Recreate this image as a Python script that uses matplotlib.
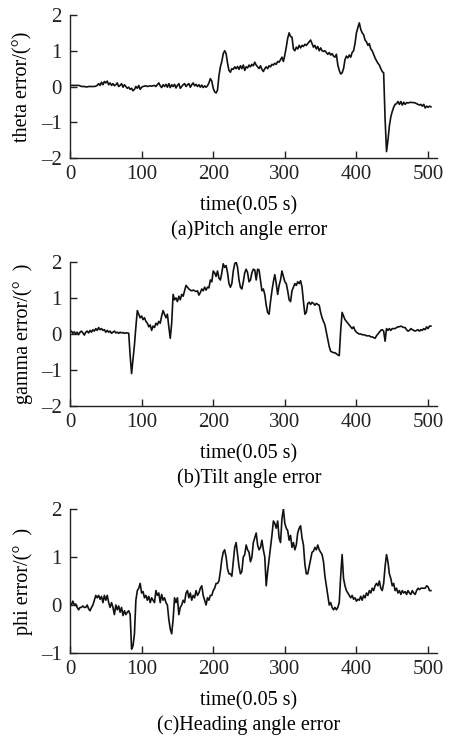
import numpy as np
import matplotlib
matplotlib.use("Agg")
import matplotlib.pyplot as plt

plt.rcParams['font.family'] = ['Liberation Serif', 'DejaVu Serif']
plt.rcParams['axes.unicode_minus'] = False

# -> values, one sample every 2 time steps (0 .. 504)

theta = [
    0.03, 0.03, 0.03, 0.03, 0.03, 0.03, 0.03,
    0.02, 0.0, 0.0, 0.0, -0.01, -0.01, 0.0, 0.0, 0.0, 0.0, 0.0, 0.01,
    0.03, 0.08, 0.03, 0.12, 0.05, 0.14, 0.1, 0.15, 0.05, 0.1,
    0.03, 0.08, 0.02, 0.05, 0.1, 0.0, 0.03, 0.08, -0.02, 0.05,
    0.0, -0.05, -0.02, -0.08, -0.05, -0.12, -0.08, 0.0, -0.05, 0.03,
    -0.08, -0.02,
    0.0, 0.01, 0.02, 0.0, 0.01, 0.02, 0.01, 0.02, 0.03, 0.0,
    0.05, 0.1, 0.02, -0.03, 0.05, 0.0, 0.06, -0.02, 0.08, -0.03,
    0.05, 0.0, 0.06, -0.04, 0.03, 0.08, -0.05, 0.0, 0.05, 0.08,
    0.0, 0.05, 0.08, -0.02, 0.05, 0.1, 0.02, 0.06, 0.0, 0.05,
    -0.02, 0.04, -0.03, 0.02, -0.02, 0.02, 0.1, 0.22, 0.15, -0.05,
    -0.15, -0.18, -0.1, 0.3, 0.55, 0.7, 0.92, 1.0, 0.92, 0.65,
    0.45, 0.4, 0.5, 0.48, 0.55, 0.5, 0.56, 0.48, 0.58, 0.5,
    0.6, 0.45, 0.55, 0.52, 0.6, 0.55, 0.62, 0.58, 0.68, 0.6,
    0.55, 0.5, 0.58, 0.48, 0.42, 0.5, 0.55, 0.5, 0.58, 0.55,
    0.62, 0.6, 0.65, 0.62, 0.7, 0.68, 0.75, 0.82, 0.7, 0.88,
    1.1, 1.35, 1.5, 1.4, 1.38, 1.05, 1.0, 1.1, 1.05, 1.15,
    1.08, 1.15, 1.12, 1.18, 1.15, 1.2, 1.25, 1.3, 1.2, 1.1,
    1.15, 1.05, 1.12, 1.0, 1.08, 1.0, 0.98, 1.0, 0.95, 0.9,
    0.95, 0.88, 0.92, 0.85, 0.82, 0.9, 0.6, 0.45, 0.35, 0.38,
    0.5, 0.75, 0.85, 0.8, 0.88, 0.82, 0.95, 1.0, 1.2, 1.5,
    1.65, 1.78, 1.6, 1.5, 1.45, 1.3, 1.25, 1.15, 1.2, 1.05,
    1.0, 0.9, 0.8, 0.72, 0.65, 0.6, 0.5, 0.42, 0.38, -0.9,
    -1.82, -1.5, -1.1, -0.85, -0.7, -0.58, -0.5, -0.48, -0.42, -0.5,
    -0.42, -0.52, -0.44, -0.5, -0.45, -0.46, -0.45, -0.44, -0.45, -0.45,
    -0.46, -0.48, -0.5, -0.52, -0.5, -0.55, -0.5, -0.6, -0.55, -0.58,
    -0.55, -0.57,
]

gamma = [
    0.05, 0.08, 0.02, 0.06, 0.0, 0.05, -0.02, 0.05, 0.08, 0.03,
    -0.03, 0.05, 0.08, 0.03, 0.1, 0.05, 0.12, 0.08, 0.15, 0.1,
    0.18, 0.12, 0.15, 0.1, 0.12, 0.05, 0.1, 0.05, 0.08, 0.02,
    0.05, 0.08, 0.03, 0.05, 0.02, 0.05, 0.03, 0.04, 0.02, 0.03,
    0.03,
    0.02, -0.6, -1.1, -0.7, -0.3, 0.2, 0.65, 0.55, 0.45, 0.5,
    0.4, 0.45, 0.35, 0.3, 0.2, 0.25, 0.1, 0.22, 0.18, 0.3,
    0.25, 0.35, 0.3, 0.5, 0.65, 0.55, 0.45, 0.55, 0.2, -0.12,
    0.3, 1.1, 0.95, 1.0, 0.9, 1.05, 0.95, 1.1, 1.05, 1.2,
    1.35, 1.3, 1.25, 1.22, 1.2, 1.22, 1.2, 1.18, 1.2, 1.08,
    1.15, 1.25, 1.2, 1.3, 1.22, 1.3, 1.28, 1.5, 1.45, 1.75,
    1.7, 1.6, 1.75, 1.55, 1.5, 1.7, 1.95, 1.85, 1.9, 1.7,
    1.4, 1.3, 1.4, 1.75, 1.95, 2.0, 1.85, 1.5, 1.3, 1.25,
    1.45, 1.7, 1.8, 1.7, 1.45, 1.5, 1.7, 1.8, 1.78, 1.5,
    1.8, 1.78, 1.5, 1.2, 1.25, 1.1, 0.8, 0.6, 0.55, 0.9,
    1.2, 1.45, 1.65, 1.4, 1.1, 1.35, 1.5, 1.75, 1.6, 1.45,
    1.4, 1.2, 0.95, 0.9, 1.2, 1.3, 1.4, 1.35, 1.45, 1.4,
    1.48, 1.3, 0.9, 0.55, 0.6, 0.85, 0.88, 0.82, 0.88, 0.85,
    0.8, 0.85, 0.82, 0.8, 0.6, 0.45, 0.35, 0.25, 0.05, -0.15,
    -0.35, -0.48, -0.5, -0.52, -0.52, -0.55, -0.58, -0.6, 0.1, 0.6,
    0.5, 0.4, 0.35, 0.3, 0.25, 0.2, 0.15, 0.2, 0.1, 0.05,
    0.02, 0.0, 0.0, -0.02, -0.02, -0.03, -0.05, -0.05, -0.05, -0.08,
    -0.08, -0.1, -0.12, -0.05, 0.0, 0.05, 0.1, 0.12, 0.08, -0.2,
    0.15, 0.1, 0.15, 0.1, 0.15, 0.15, 0.15, 0.18, 0.2, 0.2,
    0.22, 0.2, 0.18, 0.18, 0.12, 0.08, 0.1, 0.15, 0.12, 0.1,
    0.08, 0.1, 0.12, 0.08, 0.12, 0.1, 0.15, 0.12, 0.2, 0.15,
    0.22, 0.22,
]

phi = [
    0.05, 0.0, 0.08, 0.0, 0.02, -0.05, -0.1, -0.05, -0.05, -0.02,
    -0.05, -0.05, 0.0, -0.08, -0.12, -0.05, 0.0, 0.1, 0.2, 0.15,
    0.2, 0.12, 0.18, 0.05, 0.2, 0.1, 0.2, 0.05, -0.05, 0.05,
    -0.05, -0.2, 0.0, -0.1, -0.02, -0.15, -0.05, -0.22, -0.12, -0.2,
    -0.15,
    -0.12, -0.2, -0.92, -0.85, -0.6, 0.1, 0.3, 0.35, 0.45, 0.25,
    0.28, 0.15, 0.2, 0.1, 0.18, 0.05, 0.15, 0.1, 0.05, 0.3,
    0.2, 0.25, 0.05, 0.22, 0.1, 0.15, 0.05, 0.0, -0.3, -0.5,
    -0.6, -0.3, 0.15, 0.05, 0.15, -0.2, -0.05, 0.0, 0.1, 0.05,
    0.25, 0.3, 0.15, 0.25, 0.1, 0.2, 0.15, 0.3, 0.2, 0.25,
    0.35, 0.4, 0.2, 0.1, 0.0, 0.15, 0.1, 0.2, 0.2, 0.3,
    0.35, 0.45, 0.45, 0.5, 0.7, 0.95, 1.1, 1.15, 1.0, 0.75,
    0.65, 0.65, 0.6, 0.9, 1.2, 1.3, 1.05, 0.8, 0.65, 0.7,
    1.0, 1.05, 1.25, 1.15, 1.1, 0.9, 1.0, 1.3, 1.4, 1.5,
    1.25, 1.15, 1.2, 1.35, 1.15, 1.0, 0.4, 0.7, 0.95, 1.2,
    1.45, 1.75, 1.7, 1.6, 1.75, 1.4, 1.3, 1.8, 2.0, 1.7,
    1.6, 1.55, 1.35, 1.45, 1.2, 1.3, 1.15, 1.25, 1.5, 1.6,
    1.65, 1.4, 1.25, 0.85, 0.65, 0.65, 0.8, 0.95, 1.1, 1.12,
    1.2, 1.15, 1.25, 1.15, 1.1, 1.05, 0.9, 0.6, 0.4, 0.2,
    0.0, 0.05, -0.05, -0.1, -0.05, -0.1, -0.05, 0.05, 0.6, 1.05,
    0.55, 0.4, 0.3, 0.25, 0.2, 0.15, 0.2, 0.12, 0.15, 0.08,
    0.12, 0.1, 0.18, 0.1, 0.2, 0.15, 0.25, 0.2, 0.3, 0.25,
    0.35, 0.3, 0.4, 0.45, 0.4, 0.5, 0.35, 0.3, 0.45, 0.8,
    1.05, 0.9, 0.65, 0.55, 0.4, 0.45, 0.3, 0.35, 0.25, 0.3,
    0.22, 0.3, 0.25, 0.28, 0.22, 0.3, 0.25, 0.22, 0.3, 0.25,
    0.22, 0.3, 0.35, 0.32, 0.35, 0.35, 0.35, 0.35, 0.4, 0.38,
    0.3, 0.3,
]

ylabels = ['theta error/(\u00b0)', 'gamma error/(\u00b0  )', 'phi error/(\u00b0  )']
captions = ['(a)Pitch angle error', '(b)Tilt angle error', '(c)Heading angle error']
ylims = [(-2, 2), (-2, 2), (-1, 2)]
xticks = [0, 100, 200, 300, 400, 500]

W, H = 454, 737
# -> axes boxes in pixels: left, top, right, bottom
boxes_px = [(70, 15, 437, 158), (70, 262, 437, 406), (70, 509, 437, 653)]

fig = plt.figure(figsize=(W / 100, H / 100), dpi=100)

for i, series in enumerate([theta, gamma, phi]):
    l, tp, r, b = boxes_px[i]
    ax = fig.add_axes([l / W, 1 - b / H, (r - l) / W, (b - tp) / H])
    t = np.arange(len(series)) * 2
    ax.plot(t, series, color='#111111', lw=1.2)
    ax.set_xlim(0, 512.5)
    ax.set_ylim(*ylims[i])
    ax.set_xticks(xticks)
    yt = list(range(ylims[i][0], ylims[i][1] + 1))
    ax.set_yticks(yt)
    ax.set_yticklabels(['\u2013' + str(-v) if v < 0 else str(v) for v in yt])
    for s in ['top', 'right']:
        ax.spines[s].set_visible(False)
    for s in ['left', 'bottom']:
        ax.spines[s].set_linewidth(1.0)
        ax.spines[s].set_color('#222222')
    ax.tick_params(direction='in', length=5, width=1, labelsize=15, colors='#222222')
    ax.tick_params(axis='x', pad=5)
    ax.tick_params(axis='y', pad=6)
    ax.set_xlabel('time(0.05 s)', fontsize=14.5, va='center')
    ax.xaxis.set_label_coords((249 - l) / (r - l), -48 / (b - tp))
    ax.set_ylabel(ylabels[i], fontsize=14.5, va='center')
    ax.yaxis.set_label_coords((23 - l) / (r - l), 0.5)
    fig.text(249 / W, 1 - (b + 72) / H, captions[i], fontsize=14.5, ha='center', va='center')

fig.savefig('out.png', dpi=100)
